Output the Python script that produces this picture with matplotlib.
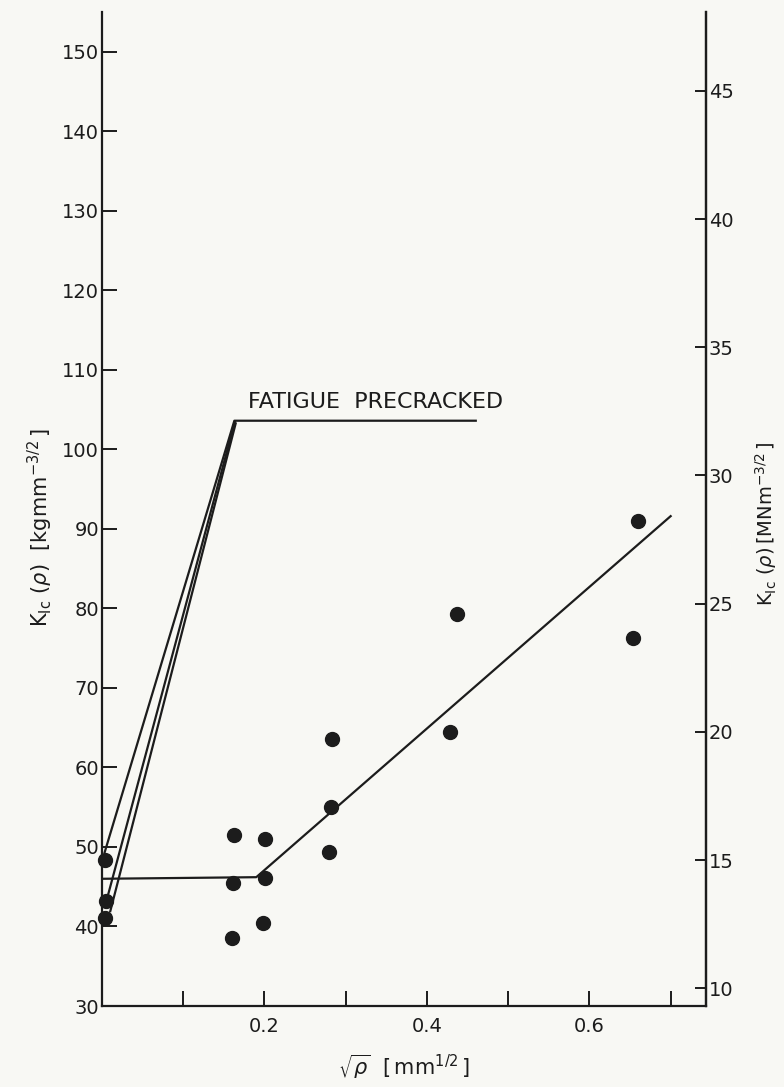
import matplotlib
matplotlib.use('Agg')
import matplotlib.pyplot as plt

# Data (left axis units: kg mm^-3/2)
x_pts = [0.004, 0.005, 0.004, 0.160, 0.161, 0.162, 0.198, 0.201, 0.201,
         0.279, 0.282, 0.283, 0.429, 0.437, 0.654, 0.660]
y_pts = [48.4, 43.2, 41.1, 38.6, 45.5, 51.5, 40.5, 46.1, 51.0,
         49.4, 55.0, 63.6, 64.5, 79.3, 76.3, 91.0]

fit_x = [0.0, 0.19, 0.70]
fit_y = [46.0, 46.2, 91.6]

fatigue_x = [[0.003, 0.163, 0.4615], [0.005, 0.164], [0.010, 0.165]]
fatigue_y = [[49.2, 103.6, 103.6], [43.0, 103.6], [41.8, 103.4]]

x_ticks = [0.1, 0.2, 0.3, 0.4, 0.5, 0.6, 0.7]
x_labels = ['', '0.2', '', '0.4', '', '0.6', '']
left_ticks = list(range(30, 151, 10))
right_ticks = list(range(10, 46, 5))

KG_TO_MN = 0.3102  # 1 kg mm^-3/2 = 0.3102 MN m^-3/2

ink = '#1c1c1c'
paper = '#f8f8f4'

fig = plt.figure(figsize=(7.84, 10.87), dpi=100, facecolor=paper)
ax = fig.add_axes([0.130, 0.0745, 0.7705, 0.9145], facecolor=paper)

# Lines
for fx, fy in zip(fatigue_x, fatigue_y):
    ax.plot(fx, fy, color=ink, lw=1.6, solid_capstyle='butt')
ax.plot(fit_x, fit_y, color=ink, lw=1.6)
ax.plot(x_pts, y_pts, 'o', color=ink, ms=10, clip_on=False)

ax.text(0.180, 106.0, 'FATIGUE  PRECRACKED', fontsize=16, color=ink,
        va='center', ha='left')

ax.set_xlim(0, 0.7435)
ax.set_ylim(30, 155)

ax.spines['top'].set_visible(False)
for s in ['left', 'right', 'bottom']:
    ax.spines[s].set_linewidth(1.6)
    ax.spines[s].set_color(ink)

ax.set_xticks(x_ticks)
ax.set_xticklabels(x_labels)
ax.set_yticks(left_ticks)
ax.tick_params(axis='both', direction='in', length=11, width=1.4,
               colors=ink, labelsize=14, pad=8)
ax.tick_params(axis='y', pad=2)

# Right axis in MN m^-3/2
sec = ax.secondary_yaxis('right', functions=(lambda k: k * KG_TO_MN,
                                             lambda m: m / KG_TO_MN))
sec.set_yticks(right_ticks)
sec.tick_params(direction='in', length=8, width=1.4, colors=ink,
                labelsize=14, pad=2)
sec.spines['right'].set_linewidth(1.6)
sec.spines['right'].set_color(ink)

# Axis titles
fig.text(0.051, 0.515, r'$\mathrm{K_{Ic}}\ (\rho)\ \ [\mathrm{kgmm}^{-3/2}\,]$',
         fontsize=15, color=ink, rotation=90, ha='center', va='center')
fig.text(0.977, 0.518, r'$\mathrm{K_{Ic}}\ (\rho)\,[\mathrm{MNm}^{-3/2}\,]$',
         fontsize=14, color=ink, rotation=90, ha='center', va='center')
fig.text(0.515, 0.019, r'$\sqrt{\rho}\ \ [\,\mathrm{mm}^{1/2}\,]$',
         fontsize=15, color=ink, ha='center', va='center')

fig.savefig('out.png', dpi=100, facecolor=paper)
